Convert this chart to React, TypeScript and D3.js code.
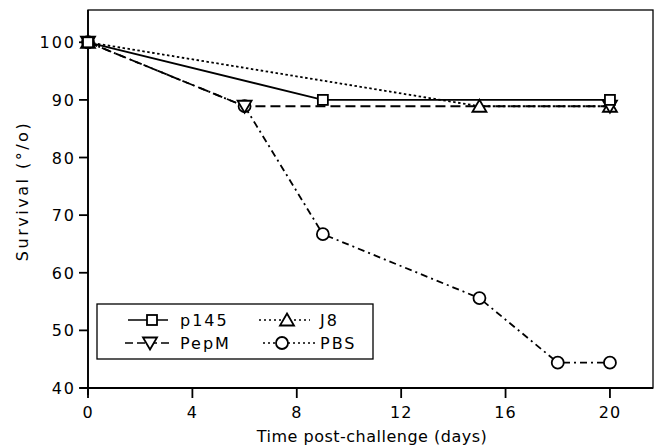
import React from 'react';
import * as d3 from 'd3';

// days post-challenge and survival (%) per group
const p145Days = [0, 9, 20];
const p145Surv = [100, 90, 90];
const pepmDays = [0, 6, 20];
const pepmSurv = [100, 88.9, 88.9];
const j8Days = [0, 15, 20];
const j8Surv = [100, 88.9, 88.9];
const pbsDays = [0, 6, 9, 15, 18, 20];
const pbsSurv = [100, 88.9, 66.7, 55.6, 44.4, 44.4];

const xTicks = [0, 4, 8, 12, 16, 20];
const yTicks = [40, 50, 60, 70, 80, 90, 100];

const W = 657;
const H = 447;
const font = '"DejaVu Sans", sans-serif';

const x = d3.scaleLinear().domain([0, 21.65]).range([88, 653]);
const y = d3.scaleLinear().domain([40, 105.6]).range([388, 10]);

type Shape = 'square' | 'down' | 'up' | 'circle';

const series: { name: string; days: number[]; surv: number[]; dash: string; shape: Shape }[] = [
  { name: 'PBS', days: pbsDays, surv: pbsSurv, dash: '7,4,2,4', shape: 'circle' },
  { name: 'J8', days: j8Days, surv: j8Surv, dash: '2.5,2.5', shape: 'up' },
  { name: 'PepM', days: pepmDays, surv: pepmSurv, dash: '10,5', shape: 'down' },
  { name: 'p145', days: p145Days, surv: p145Surv, dash: '', shape: 'square' },
];

const Marker = ({ shape, cx, cy }: { shape: Shape; cx: number; cy: number }) => {
  const s = { fill: 'white', stroke: '#000', strokeWidth: 1.8 };
  if (shape === 'square') return <rect x={cx - 5} y={cy - 5} width={10} height={10} {...s} />;
  if (shape === 'circle') return <circle cx={cx} cy={cy} r={6} {...s} />;
  if (shape === 'up')
    return <path d={`M${cx},${cy - 6.5} L${cx + 7},${cy + 5.5} L${cx - 7},${cy + 5.5} Z`} {...s} />;
  return <path d={`M${cx},${cy + 6.5} L${cx + 7},${cy - 5.5} L${cx - 7},${cy - 5.5} Z`} {...s} />;
};

const App = () => {
  const line = d3.line<[number, number]>().x(d => x(d[0])).y(d => y(d[1]));

  const legendItems = [
    { s: series[3], lx1: 128, lx2: 168, mx: 152, tx: 180, ly: 320, dash: '' },
    { s: series[2], lx1: 125, lx2: 170, mx: 150, tx: 180, ly: 343, dash: '8,4' },
    { s: series[1], lx1: 259, lx2: 310, mx: 287, tx: 320, ly: 320, dash: '2,3' },
    { s: series[0], lx1: 263, lx2: 318, mx: 282, tx: 320, ly: 343, dash: '2,3' },
  ];

  return (
    <svg width={W} height={H} style={{ position: 'absolute', left: 0, top: 0, background: 'white' }}>
      {/* frame */}
      <rect x={x(0)} y={10} width={653 - x(0)} height={388 - 10} fill="none" stroke="#000" strokeWidth={1.3} />
      <line x1={x(0)} x2={x(0)} y1={10} y2={395} stroke="#000" strokeWidth={1.8} />
      <line x1={x(0) - 8} x2={653} y1={388} y2={388} stroke="#000" strokeWidth={1.8} />

      {/* y ticks */}
      {yTicks.map(t => (
        <g key={t}>
          <line x1={x(0) - 9} x2={x(0)} y1={y(t)} y2={y(t)} stroke="#000" strokeWidth={1.8} />
          <text x={x(0) - 12} y={y(t) + 6} textAnchor="end" fontFamily={font} fontSize={16} letterSpacing={2}>
            {t}
          </text>
        </g>
      ))}
      {/* x ticks */}
      {xTicks.map(t => (
        <g key={t}>
          <line x1={x(t)} x2={x(t)} y1={388} y2={398} stroke="#000" strokeWidth={1.8} />
          <text x={x(t)} y={418} textAnchor="middle" fontFamily={font} fontSize={16} letterSpacing={1}>
            {t}
          </text>
        </g>
      ))}

      <text x={372} y={442} textAnchor="middle" fontFamily={font} fontSize={16} letterSpacing={0.5}>
        Time post-challenge (days)
      </text>
      <text
        transform={`translate(28,${191}) rotate(-90)`}
        textAnchor="middle"
        fontFamily={font}
        fontSize={16}
        letterSpacing={2.5}
      >
        Survival (°/o)
      </text>

      {/* series */}
      {series.map(s => (
        <g key={s.name}>
          <path
            d={line(s.days.map((d, i) => [d, s.surv[i]] as [number, number])) || ''}
            fill="none"
            stroke="#000"
            strokeWidth={1.8}
            strokeDasharray={s.dash}
          />
        </g>
      ))}
      {series.map(s => (
        <g key={s.name + 'm'}>
          {s.days.map((d, i) => (
            <Marker key={i} shape={s.shape} cx={x(d)} cy={y(s.surv[i])} />
          ))}
        </g>
      ))}

      {/* legend */}
      <rect x={97} y={304} width={276} height={55} fill="white" stroke="#000" strokeWidth={1.3} />
      {legendItems.map(it => (
        <g key={it.s.name}>
          <line x1={it.lx1} x2={it.lx2} y1={it.ly} y2={it.ly} stroke="#000" strokeWidth={1.6} strokeDasharray={it.dash} />
          <Marker shape={it.s.shape} cx={it.mx} cy={it.ly} />
          <text x={it.tx} y={it.ly + 6} fontFamily={font} fontSize={16} letterSpacing={2}>
            {it.s.name}
          </text>
        </g>
      ))}
    </svg>
  );
};

export default App;
